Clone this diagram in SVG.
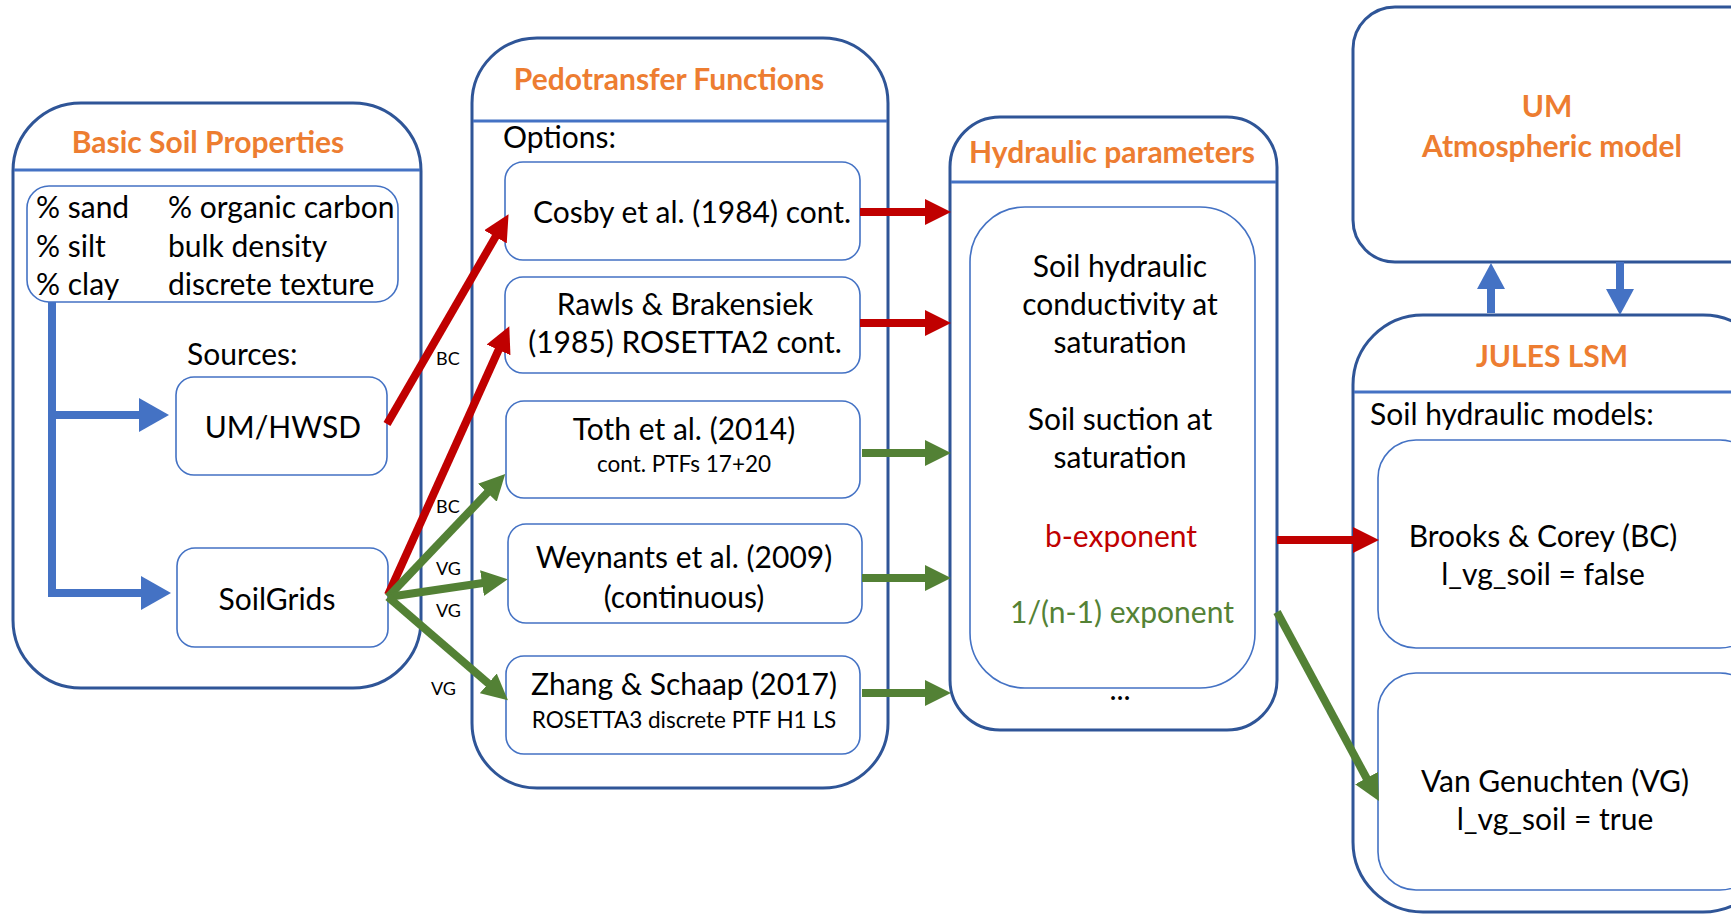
<svg xmlns="http://www.w3.org/2000/svg" width="1731" height="915" viewBox="0 0 1731 915">
<style>
  .outer{fill:#fff;stroke:#2F5597;stroke-width:3}
  .div{stroke:#4472C4;stroke-width:3}
  .inner{fill:#fff;stroke:#4472C4;stroke-width:1.6}
  .t{font-family:Lato,"Open Sans",sans-serif;font-size:30px;fill:#000}
  .s{font-family:Lato,"Open Sans",sans-serif;font-size:22.5px;fill:#000}
  .title{font-family:Lato,"Open Sans",sans-serif;font-size:30px;font-weight:bold;fill:#ED7D31}
  .lbl{font-family:Lato,"Open Sans",sans-serif;font-size:18px;fill:#000}
  .c{text-anchor:middle}
  .red{stroke:#C00000;stroke-width:8;fill:none}
  .grn{stroke:#538135;stroke-width:8;fill:none}
  .blu{stroke:#4472C4;stroke-width:8;fill:none}
</style>
<defs>
  <marker id="hr" viewBox="0 0 26 26" markerUnits="userSpaceOnUse" markerWidth="26" markerHeight="26" refX="1" refY="13" orient="auto"><path d="M0,0 L26,13 L0,26 z" fill="#C00000"/></marker>
  <marker id="hg" viewBox="0 0 26 26" markerUnits="userSpaceOnUse" markerWidth="26" markerHeight="26" refX="1" refY="13" orient="auto"><path d="M0,0 L26,13 L0,26 z" fill="#538135"/></marker>
  <marker id="hb" viewBox="0 0 30 34" markerUnits="userSpaceOnUse" markerWidth="30" markerHeight="34" refX="1" refY="17" orient="auto"><path d="M0,0 L30,17 L0,34 z" fill="#4472C4"/></marker>
  <marker id="hb2" viewBox="0 0 26 28" markerUnits="userSpaceOnUse" markerWidth="26" markerHeight="28" refX="1" refY="14" orient="auto"><path d="M0,0 L26,14 L0,28 z" fill="#4472C4"/></marker>
</defs>
<rect width="1731" height="915" fill="#fff"/>

<g id="basic-soil-properties">
  <rect class="outer" x="13" y="103" width="408" height="585" rx="68"/>
  <line class="div" x1="14" y1="170" x2="420" y2="170"/>
  <text class="title c" x="208" y="153">Basic Soil Properties</text>
  <g id="properties">
    <rect class="inner" x="27" y="186" width="371" height="116" rx="22"/>
    <text class="t" x="36" y="218">% sand</text>
    <text class="t" x="36" y="257">% silt</text>
    <text class="t" x="36" y="295">% clay</text>
    <text class="t" x="168" y="218">% organic carbon</text>
    <text class="t" x="168" y="257">bulk density</text>
    <text class="t" x="168" y="295">discrete texture</text>
  </g>
  <text class="t" x="187" y="365">Sources:</text>
  <g id="um-hwsd">
    <rect class="inner" x="176" y="377" width="211" height="98" rx="18"/>
    <text class="t c" x="283" y="438">UM/HWSD</text>
  </g>
  <g id="soilgrids">
    <rect class="inner" x="177" y="548" width="211" height="99" rx="18"/>
    <text class="t c" x="277" y="610">SoilGrids</text>
  </g>
</g>

<g id="pedotransfer-functions">
  <rect class="outer" x="472" y="38" width="416" height="750" rx="65"/>
  <line class="div" x1="473" y1="121" x2="887" y2="121"/>
  <text class="title c" x="669" y="90">Pedotransfer Functions</text>
  <text class="t" x="503" y="148">Options:</text>
  <g id="cosby">
    <rect class="inner" x="505" y="162" width="355" height="98" rx="18"/>
    <text class="t c" x="692" y="223">Cosby et al. (1984) cont.</text>
  </g>
  <g id="rawls">
    <rect class="inner" x="505" y="277" width="355" height="96" rx="18"/>
    <text class="t c" x="685" y="315">Rawls &amp; Brakensiek</text>
    <text class="t c" x="685" y="353">(1985) ROSETTA2 cont.</text>
  </g>
  <g id="toth">
    <rect class="inner" x="506" y="401" width="354" height="97" rx="18"/>
    <text class="t c" x="684" y="440">Toth et al. (2014)</text>
    <text class="s c" x="684" y="472">cont. PTFs 17+20</text>
  </g>
  <g id="weynants">
    <rect class="inner" x="508" y="524" width="354" height="99" rx="18"/>
    <text class="t c" x="684" y="568">Weynants et al. (2009)</text>
    <text class="t c" x="684" y="608">(continuous)</text>
  </g>
  <g id="zhang">
    <rect class="inner" x="506" y="656" width="354" height="98" rx="18"/>
    <text class="t c" x="684" y="695">Zhang &amp; Schaap (2017)</text>
    <text class="s c" x="684" y="728">ROSETTA3 discrete PTF H1 LS</text>
  </g>
</g>

<g id="hydraulic-parameters">
  <rect class="outer" x="950" y="117" width="327" height="613" rx="50"/>
  <line class="div" x1="951" y1="182" x2="1276" y2="182"/>
  <text class="title c" x="1112" y="163">Hydraulic parameters</text>
  <rect class="inner" x="970" y="207" width="285" height="481" rx="55"/>
  <text class="t c" x="1120" y="277">Soil hydraulic</text>
  <text class="t c" x="1120" y="315">conductivity at</text>
  <text class="t c" x="1120" y="353">saturation</text>
  <text class="t c" x="1120" y="430">Soil suction at</text>
  <text class="t c" x="1120" y="468">saturation</text>
  <text class="t c" x="1121" y="547" style="fill:#C00000">b-exponent</text>
  <text class="t c" x="1122" y="623" style="fill:#548235">1/(n-1) exponent</text>
  <text class="t c" x="1120" y="700">...</text>
</g>

<g id="um-atmospheric-model">
  <rect class="outer" x="1353" y="7" width="420" height="255" rx="42"/>
  <text class="title c" x="1547" y="117">UM</text>
  <text class="title c" x="1552" y="157">Atmospheric model</text>
</g>

<g id="jules-lsm">
  <rect class="outer" x="1353" y="315" width="420" height="597" rx="70"/>
  <line class="div" x1="1354" y1="392" x2="1731" y2="392"/>
  <text class="title c" x="1552" y="367">JULES LSM</text>
  <text class="t" x="1370" y="425">Soil hydraulic models:</text>
  <g id="brooks-corey">
    <rect class="inner" x="1378" y="440" width="380" height="208" rx="38"/>
    <text class="t c" x="1543" y="547">Brooks &amp; Corey (BC)</text>
    <text class="t c" x="1543" y="585">l_vg_soil = false</text>
  </g>
  <g id="van-genuchten">
    <rect class="inner" x="1378" y="673" width="380" height="217" rx="38"/>
    <text class="t c" x="1555" y="792">Van Genuchten (VG)</text>
    <text class="t c" x="1555" y="830">l_vg_soil = true</text>
  </g>
</g>

<g id="connectors">
  <path class="blu" d="M52,302 V597"/>
  <path class="blu" d="M48,415 H140" marker-end="url(#hb)"/>
  <path class="blu" d="M48,593 H142" marker-end="url(#hb)"/>
  <path class="blu" d="M1491,313 V288" marker-end="url(#hb2)"/>
  <path class="blu" d="M1620,262 V290" marker-end="url(#hb2)"/>

  <path class="red" d="M387,424 L496,236" marker-end="url(#hr)"/>
  <path class="red" d="M388,595 L499,349" marker-end="url(#hr)"/>
  <path class="grn" d="M388,597 L488,492" marker-end="url(#hg)"/>
  <path class="grn" d="M388,597 L483,583" marker-end="url(#hg)"/>
  <path class="grn" d="M388,597 L489,684" marker-end="url(#hg)"/>

  <path class="red" d="M860,212 H926" marker-end="url(#hr)"/>
  <path class="red" d="M860,323 H926" marker-end="url(#hr)"/>
  <path class="grn" d="M862,453 H926" marker-end="url(#hg)"/>
  <path class="grn" d="M862,578 H926" marker-end="url(#hg)"/>
  <path class="grn" d="M862,693 H926" marker-end="url(#hg)"/>

  <path class="red" d="M1277,540 H1354" marker-end="url(#hr)"/>
  <path class="grn" d="M1277,612 L1367,779" marker-end="url(#hg)"/>

  <text class="lbl" x="436" y="365">BC</text>
  <text class="lbl" x="436" y="513">BC</text>
  <text class="lbl" x="436" y="575">VG</text>
  <text class="lbl" x="436" y="617">VG</text>
  <text class="lbl" x="431" y="695">VG</text>
</g>
</svg>
